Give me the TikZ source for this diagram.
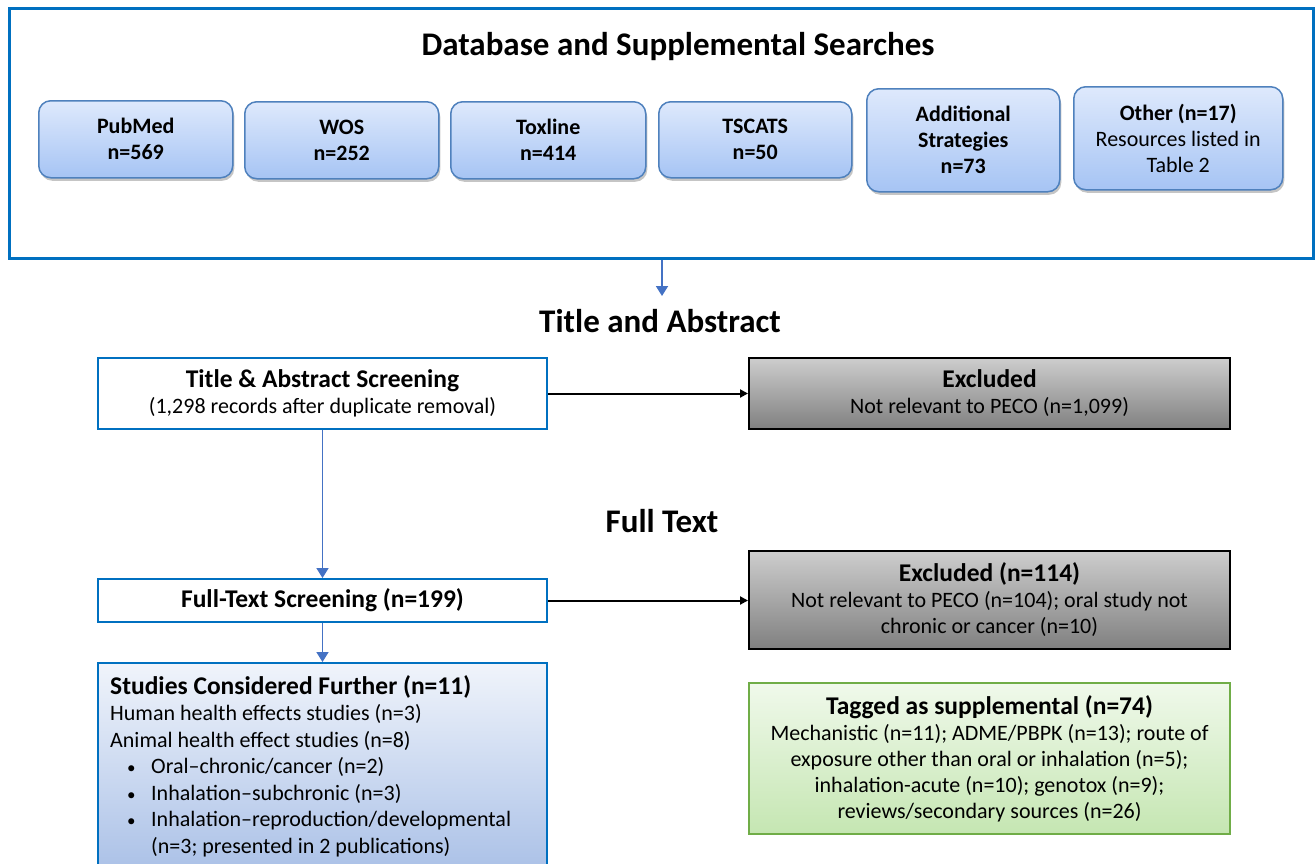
\documentclass[tikz,border=0pt]{standalone}
\usepackage{fontspec}
\setmainfont{Carlito}
\usetikzlibrary{positioning}
\usetikzlibrary{arrows.meta,shadows}
\definecolor{framec}{RGB}{0,112,192}
\definecolor{arrowc}{RGB}{68,114,196}
\definecolor{srchtop}{RGB}{222,233,252}
\definecolor{srchbot}{RGB}{166,196,244}
\definecolor{srchline}{RGB}{79,129,189}
\definecolor{excltop}{RGB}{205,205,205}
\definecolor{exclbot}{RGB}{128,128,128}
\definecolor{suptop}{RGB}{240,249,235}
\definecolor{supbot}{RGB}{197,230,178}
\definecolor{supline}{RGB}{112,173,71}
\definecolor{stdtop}{RGB}{240,244,251}
\definecolor{stdbot}{RGB}{160,185,228}
\newcommand{\boldline}[1]{{\fontsize{25.5}{28}\selectfont\textbf{#1}}}
\newcommand{\bulletitem}{\makebox[41pt][l]{\hspace{17pt}{\fontsize{17}{17}\selectfont\textbullet}}}
\tikzset{
  bodyfont/.style={font=\fontsize{22}{26}\selectfont},
  searchbox/.style={anchor=north west, draw=srchline, line width=1.5pt, rounded corners=12pt,
    top color=srchtop, bottom color=srchbot, align=center, inner sep=0pt,
    font=\fontsize{22}{26}\selectfont,
    drop shadow={shadow xshift=1.5pt, shadow yshift=-3pt, fill=black!45}},
  stepbox/.style={anchor=north west, draw=framec, line width=2pt, fill=white, align=center, inner sep=0pt, bodyfont},
  exclbox/.style={anchor=north west, draw=black, line width=2pt, top color=excltop, bottom color=exclbot, align=center, inner sep=0pt, bodyfont},
  heading/.style={font=\fontsize{33}{36}\selectfont\bfseries},
  bluearrow/.style={draw=arrowc, line width=1.8pt, -{Triangle[length=10pt,width=12pt]}},
  blackarrow/.style={draw=black, line width=2pt, -{Triangle[length=8pt,width=8pt]}},
}

\begin{document}
\begin{tikzpicture}[x=1pt,y=-1pt]
        \useasboundingbox (0,0) rectangle (1315,863);
        \clip (0,0) rectangle (1315,863);

        % searches
        \node[draw=framec, line width=3pt, anchor=north west, minimum width=1304pt, minimum height=250pt, inner sep=0pt]
        (searches) at (8,7) {};
        \node[heading] (searchtitle) at (678,47) {Database and Supplemental Searches};

        \node[searchbox, minimum width=194pt, minimum height=77pt] (pubmed) at (38,100) {\textbf{PubMed}\\\textbf{n=569}};
        \node[searchbox, minimum width=194pt, minimum height=77pt] (wos) at (244,101) {\textbf{WOS}\\\textbf{n=252}};
        \node[searchbox, minimum width=195pt, minimum height=77pt] (toxline) at (450,101) {\textbf{Toxline}\\\textbf{n=414}};
        \node[searchbox, minimum width=193pt, minimum height=76pt] (tscats) at (658,101) {\textbf{TSCATS}\\\textbf{n=50}};
        \node[searchbox, minimum width=193pt, minimum height=103pt] (addstrat) at (866,88) {\textbf{Additional}\\\textbf{Strategies}\\\textbf{n=73}};
        \node[searchbox, minimum width=209pt, minimum height=103pt] (other) at (1073,86) {\textbf{Other (n=17)}\\Resources listed in\\Table 2};

        \coordinate (tahead) at (662,296);
        \draw[bluearrow] (searches.south -| tahead) -- (tahead);

        % title and abstract
        \node[heading] (tatitle) at (660,321) {Title and Abstract};
        \node[stepbox, minimum width=449pt, minimum height=71pt] (tascreen) at (97,357)
        {\boldline{Title \& Abstract Screening}\\(1,298 records after duplicate removal)};
        \node[exclbox, minimum width=481pt, minimum height=71pt] (taexcl) at (748,357)
        {\boldline{Excluded}\\Not relevant to PECO (n=1,099)};
        \draw[blackarrow] (tascreen.east) -- (taexcl.west);

        % full text
        \node[heading] (fttitle) at (662,521) {Full Text};
        \node[stepbox, minimum width=449pt, minimum height=43pt] (ftscreen) at (97,578)
        {\boldline{Full-Text Screening (n=199)}};
        \node[exclbox, minimum width=481pt, minimum height=98pt] (ftexcl) at (748,550)
        {\boldline{Excluded (n=114)}\\Not relevant to PECO (n=104); oral study not\\chronic or cancer (n=10)};
        \draw[blackarrow] (ftscreen.east) -- (ftscreen.east -| ftexcl.west);
        \draw[bluearrow] (tascreen.south) -- (ftscreen.north);

        \node[anchor=north west, draw=framec, line width=2pt, top color=stdtop, bottom color=stdbot,
        minimum width=449pt, minimum height=240pt, inner sep=0pt] (studies) at (97,662) {};
        \node[anchor=north west, align=left, inner sep=0pt, font=\fontsize{22}{26.5}\selectfont] (studiestext) at (110,675)
        {\boldline{Studies Considered Further (n=11)}\\
        Human health effects studies (n=3)\\
        Animal health effect studies (n=8)\\
        \bulletitem Oral--chronic/cancer (n=2)\\
        \bulletitem Inhalation--subchronic (n=3)\\
        \bulletitem Inhalation--reproduction/developmental\\
        \hspace*{41pt}(n=3; presented in 2 publications)};
        \draw[bluearrow] (ftscreen.south) -- (studies.north);

        \node[anchor=north west, draw=supline, line width=2pt, top color=suptop, bottom color=supbot,
        minimum width=481pt, minimum height=151pt, align=center, inner sep=0pt, bodyfont] (supplement) at (748,682)
        {\boldline{Tagged as supplemental (n=74)}\\
        Mechanistic (n=11); ADME/PBPK (n=13); route of\\
        exposure other than oral or inhalation (n=5);\\
        inhalation-acute (n=10); genotox (n=9);\\
        reviews/secondary sources (n=26)};

        \end{tikzpicture}
\end{document}
